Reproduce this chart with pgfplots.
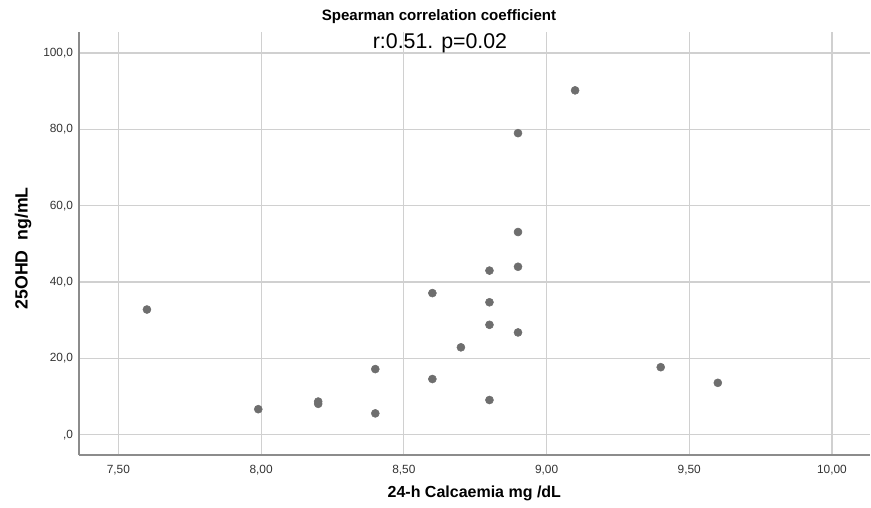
\documentclass[border=0pt]{standalone}
\usepackage{pgfplots}
\pgfplotsset{compat=1.18}
\usepackage{fontspec}
\setmainfont{Liberation Sans}

\definecolor{dotgray}{HTML}{6E6E6E}
\definecolor{gridgray}{HTML}{D0D0D0}
\definecolor{axgray}{HTML}{8C8C8C}

\begin{document}
\begin{tikzpicture}
% picture frame: 871x507 px at 0.75pt per px, axis corner at px (79,455)
\path (-59.25pt,341.25pt) rectangle (594pt,-39pt);
\begin{axis}[
    at={(0,0)}, anchor=south west,
    scale only axis,
    width=593pt, height=317pt,
    xmin=7.362, xmax=10.132,
    ymin=-5.3, ymax=105.4,
    xtick={7.5,8,8.5,9,9.5,10},
    xticklabels={{7,50},{8,00},{8,50},{9,00},{9,50},{10,00}},
    ytick={0,20,40,60,80,100},
    yticklabels={{,0},{20,0},{40,0},{60,0},{80,0},{100,0}},
    grid=major,
    major grid style={gridgray, line width=0.9pt},
    major tick length=0pt,
    axis x line*=bottom, axis y line*=left,
    axis line style={axgray, line width=1.1pt},
    tick label style={font=\fontsize{8.9}{10}\selectfont, text=black!80},
    xticklabel style={yshift=-4pt},
    yticklabel style={xshift=-1pt},
    xlabel={\bfseries 24-h Calcaemia mg /dL},
    ylabel={\bfseries 25OHD\ \ ng/mL},
    label style={font=\fontsize{12}{14}\selectfont},
    xlabel style={at={(axis description cs:0.5,0)}, anchor=center, yshift=-28.5pt},
    ylabel style={at={(axis description cs:0,0.489)}, anchor=center, yshift=42pt, font=\fontsize{13.3}{15}\selectfont},
    clip=false,
]
\addplot[only marks, mark=*, mark size=3pt, mark options={fill=dotgray, draw=dotgray}] coordinates {
    (7.60, 32.8)
    (7.99, 6.7)
    (8.20, 8.7) (8.20, 8.1)
    (8.40, 17.2) (8.40, 5.6)
    (8.60, 37.1) (8.60, 14.6)
    (8.70, 22.9)
    (8.80, 43.0) (8.80, 34.7) (8.80, 28.8) (8.80, 9.1)
    (8.90, 79.0) (8.90, 53.1) (8.90, 44.0) (8.90, 26.8)
    (9.10, 90.2)
    (9.40, 17.7)
    (9.60, 13.6)
};
\end{axis}
\node[font=\fontsize{11.3}{13}\selectfont\bfseries] at (270pt,328.5pt) {Spearman correlation coefficient};
\node[font=\fontsize{16}{18}\selectfont] at (270.75pt,309pt) {r:0.51. p=0.02};
\end{tikzpicture}
\end{document}
